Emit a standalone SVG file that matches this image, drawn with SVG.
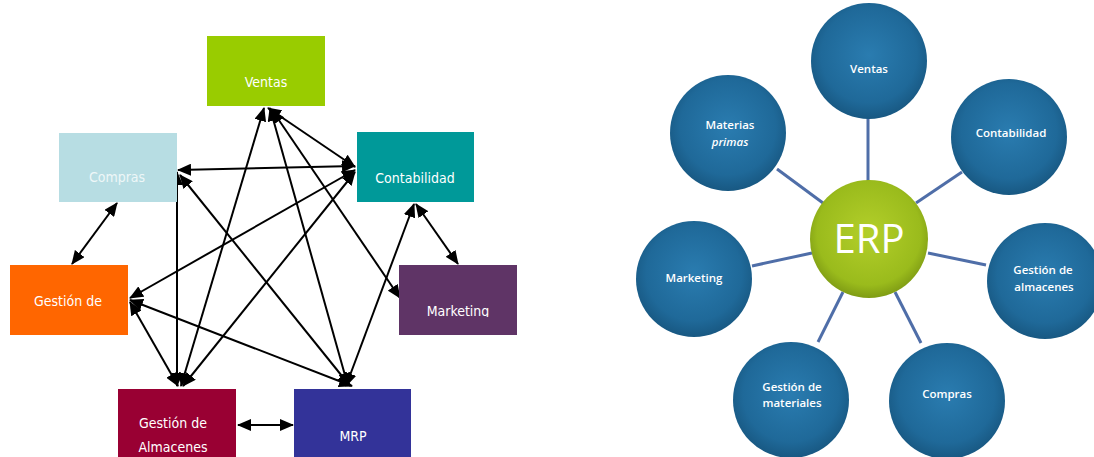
<svg xmlns="http://www.w3.org/2000/svg" width="1094" height="457" viewBox="0 0 1094 457">
<style>
.box text{font-family:"DejaVu Sans Condensed","DejaVu Sans",sans-serif;font-size:14px;fill:#ffffff;text-anchor:middle}
.ln{stroke:#000;stroke-width:2;fill:none;marker-start:url(#ah);marker-end:url(#ah)}
.sp{stroke:#4f6ea8;stroke-width:3;fill:none}
.bc{fill:url(#gb)}
.ct{font-family:"Open Sans","DejaVu Sans",sans-serif;font-size:11.5px;font-weight:600;fill:#ffffff;text-anchor:middle}
</style>
<defs>
<marker id="ah" viewBox="0 0 14 12" refX="13" refY="6" markerWidth="14" markerHeight="12" markerUnits="userSpaceOnUse" orient="auto-start-reverse">
<path d="M0,0 L14,6 L0,12 z" fill="#000"/>
</marker>
<radialGradient id="gb" cx="50%" cy="45%" r="55%">
<stop offset="0" stop-color="#2a7cb0"/>
<stop offset="0.75" stop-color="#1f6999"/>
<stop offset="1" stop-color="#185882"/>
</radialGradient>
<radialGradient id="gg" cx="50%" cy="45%" r="55%">
<stop offset="0" stop-color="#b3cf2a"/>
<stop offset="0.8" stop-color="#9abb1c"/>
<stop offset="1" stop-color="#7f9c14"/>
</radialGradient>
<clipPath id="mkclip"><rect x="399" y="265" width="118" height="52"/></clipPath>
</defs>

<g id="left-connectors">
<line class="ln" x1="117" y1="203" x2="72" y2="264"/>
<line class="ln" x1="268" y1="108" x2="355" y2="167"/>
<line class="ln" x1="355" y1="166" x2="178" y2="170"/>
<line class="ln" x1="264" y1="108" x2="181" y2="386"/>
<line class="ln" x1="270" y1="108" x2="348" y2="386"/>
<line class="ln" x1="272" y1="110" x2="400" y2="298"/>
<line class="ln" x1="180" y1="175" x2="350" y2="386"/>
<line class="ln" x1="177" y1="172" x2="177" y2="386"/>
<line class="ln" x1="355" y1="170" x2="130" y2="298"/>
<line class="ln" x1="355" y1="172" x2="183" y2="386"/>
<line class="ln" x1="416" y1="204" x2="458" y2="264"/>
<line class="ln" x1="414" y1="204" x2="346" y2="386"/>
<line class="ln" x1="130" y1="302" x2="178" y2="386"/>
<line class="ln" x1="130" y1="300" x2="352" y2="386"/>
<line class="ln" x1="238" y1="425" x2="293" y2="425"/>
</g>

<g id="ventas" class="box"><rect x="207" y="36" width="118" height="70" fill="#99cc00"/><text x="266" y="87">Ventas</text></g>
<g id="compras" class="box"><rect x="59" y="133" width="118" height="69" fill="#b7dde3"/><text x="117" y="182" style="fill:#eef7f8">Compras</text></g>
<g id="contabilidad" class="box"><rect x="357" y="132" width="117" height="70" fill="#009999"/><text x="415" y="183">Contabilidad</text></g>
<g id="gestion-de" class="box"><rect x="10" y="265" width="118" height="70" fill="#ff6600"/><text x="68" y="306">Gestión de</text></g>
<g id="marketing" class="box"><rect x="399" y="265" width="118" height="70" fill="#5f3466"/><text x="458" y="316" clip-path="url(#mkclip)">Marketing</text></g>
<g id="gestion-almacenes" class="box"><rect x="118" y="389" width="118" height="68" fill="#990033"/><text x="173" y="428">Gestión de</text><text x="173" y="452">Almacenes</text></g>
<g id="mrp" class="box"><rect x="294" y="389" width="117" height="68" fill="#333399"/><text x="353" y="441">MRP</text></g>

<g id="right-connectors">
<line class="sp" x1="868" y1="115" x2="868" y2="182"/>
<line class="sp" x1="777" y1="169" x2="823" y2="203"/>
<line class="sp" x1="916" y1="203" x2="962" y2="172"/>
<line class="sp" x1="752" y1="266" x2="812" y2="253"/>
<line class="sp" x1="928" y1="253" x2="986" y2="265"/>
<line class="sp" x1="843" y1="292" x2="818" y2="342"/>
<line class="sp" x1="895" y1="292" x2="921" y2="343"/>
</g>

<g id="c-ventas"><circle class="bc" cx="869" cy="61" r="58"/><text class="ct" x="869" y="73">Ventas</text></g>
<g id="c-materias"><circle class="bc" cx="728" cy="133" r="58"/><text class="ct" x="730" y="129">Materias</text><text class="ct" x="730" y="146" font-style="italic">primas</text></g>
<g id="c-contabilidad"><circle class="bc" cx="1009" cy="137" r="58"/><text class="ct" x="1011" y="137">Contabilidad</text></g>
<g id="c-marketing"><circle class="bc" cx="694" cy="279" r="58"/><text class="ct" x="694" y="282">Marketing</text></g>
<g id="c-almacenes"><circle class="bc" cx="1045" cy="281" r="58"/><text class="ct" x="1043" y="274">Gestión de</text><text class="ct" x="1044" y="291">almacenes</text></g>
<g id="c-materiales"><circle class="bc" cx="791" cy="400" r="58"/><text class="ct" x="792" y="391">Gestión de</text><text class="ct" x="792" y="407">materiales</text></g>
<g id="c-compras"><circle class="bc" cx="947" cy="401" r="58"/><text class="ct" x="947" y="398">Compras</text></g>
<g id="c-erp"><circle cx="869" cy="239" r="59" fill="url(#gg)"/><text x="869" y="253" font-family="'Open Sans','DejaVu Sans',sans-serif" font-size="40" fill="#ffffff" text-anchor="middle">ERP</text></g>
</svg>
